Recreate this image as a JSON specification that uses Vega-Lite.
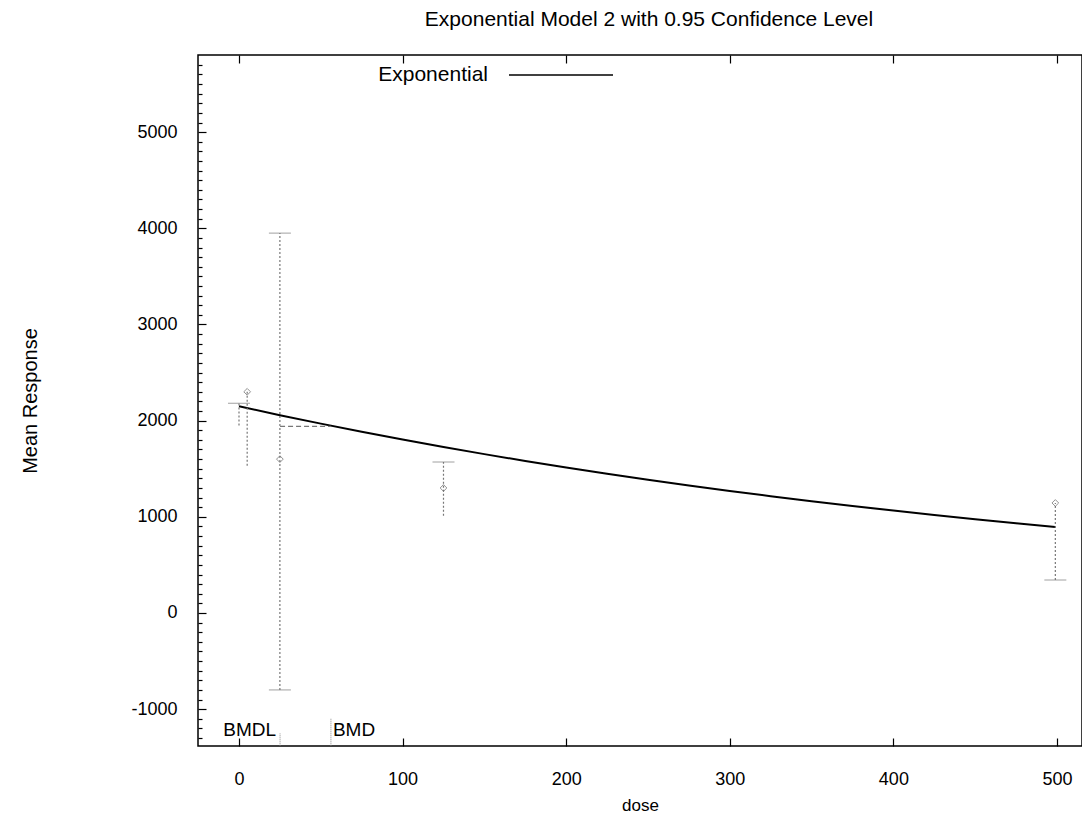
{
  "$schema": "https://vega.github.io/schema/vega-lite/v6.json",
  "width": 884,
  "height": 691,
  "autosize": "none",
  "padding": {"left": 198, "top": 55, "right": 0, "bottom": 68},
  "background": "white",
  "config": {
    "font": "Liberation Sans",
    "view": {"stroke": "black", "strokeWidth": 1.5},
    "axis": {"grid": false, "domain": false, "tickColor": "black", "labelColor": "black", "titleColor": "black", "labelFont": "Liberation Sans", "titleFont": "Liberation Sans", "labelFontSize": 18, "titleFontSize": 19, "titleFontWeight": "normal", "tickWidth": 1.2}
  },
  "title": {"text": "Exponential Model 2 with 0.95 Confidence Level", "fontSize": 21, "fontWeight": "normal", "font": "Liberation Sans", "color": "black", "offset": 24, "anchor": "middle", "dx": 9},
  "datasets": {
    "model": [
      {"dose": 0, "resp": 2150}, {"dose": 25, "resp": 2057}, {"dose": 50, "resp": 1969}, {"dose": 75, "resp": 1885},
      {"dose": 100, "resp": 1804}, {"dose": 125, "resp": 1726}, {"dose": 150, "resp": 1652}, {"dose": 175, "resp": 1581},
      {"dose": 200, "resp": 1513}, {"dose": 225, "resp": 1448}, {"dose": 250, "resp": 1386}, {"dose": 275, "resp": 1326},
      {"dose": 300, "resp": 1269}, {"dose": 325, "resp": 1215}, {"dose": 350, "resp": 1163}, {"dose": 375, "resp": 1112},
      {"dose": 400, "resp": 1065}, {"dose": 425, "resp": 1019}, {"dose": 450, "resp": 975}, {"dose": 475, "resp": 933},
      {"dose": 499, "resp": 895}
    ],
    "obs": [
      {"dose": 0, "lower": 1950, "upper": 2180},
      {"dose": 5, "lower": 1530, "upper": 2300, "mean": 2300},
      {"dose": 25, "lower": -800, "upper": 3950, "mean": 1600},
      {"dose": 125, "lower": 1010, "upper": 1570, "mean": 1300},
      {"dose": 499, "lower": 343, "upper": 1144, "mean": 1144}
    ],
    "caps": [
      {"dose": 0, "value": 2180},
      {"dose": 25, "value": 3950},
      {"dose": 25, "value": -800},
      {"dose": 125, "value": 1570},
      {"dose": 499, "value": 343}
    ],
    "bmr": [{"dose": 25.1, "dose2": 56.2, "value": 1940}],
    "bmd": [
      {"dose": 25.1, "bottom": -1380, "top": -1250, "label": "BMDL", "ly": -1215},
      {"dose": 56.2, "bottom": -1380, "top": -1100, "label": "BMD", "ly": -1215}
    ]
  },
  "layer": [
    {
      "data": {"name": "model"},
      "mark": {"type": "line", "strokeWidth": 2},
      "encoding": {
        "x": {"field": "dose", "type": "quantitative", "title": "dose",
              "scale": {"domain": [-25.06, 515.3], "nice": false, "zero": false},
              "axis": {"orient": "bottom", "values": [0, 100, 200, 300, 400, 500], "tickCount": 20, "tickSize": -8, "labelPadding": 32, "titlePadding": 9, "titleFontSize": 17}},
        "y": {"field": "resp", "type": "quantitative", "title": "Mean Response",
              "scale": {"domain": [-1383, 5802], "nice": false, "zero": false},
              "axis": {"orient": "left",
                       "values": [-1300,-1200,-1100,-1000,-900,-800,-700,-600,-500,-400,-300,-200,-100,0,100,200,300,400,500,600,700,800,900,1000,1100,1200,1300,1400,1500,1600,1700,1800,1900,2000,2100,2200,2300,2400,2500,2600,2700,2800,2900,3000,3100,3200,3300,3400,3500,3600,3700,3800,3900,4000,4100,4200,4300,4400,4500,4600,4700,4800,4900,5000,5100,5200,5300,5400,5500,5600,5700],
                       "tickCount": 200,
                       "labelExpr": "datum.value % 1000 === 0 ? '' + datum.value : ''",
                       "labelOverlap": false,
                       "tickSize": {"condition": {"test": "datum.value % 1000 === 0", "value": -8}, "value": -4},
                       "labelPadding": 29, "titlePadding": 90, "titleFontSize": 20}},
        "stroke": {"datum": "Exponential", "type": "nominal",
                   "scale": {"range": ["black"]},
                   "legend": {"orient": "none", "legendX": 349, "legendY": 6, "title": null,
                              "labelFontSize": 21, "labelColor": "black", "labelFont": "Liberation Sans",
                              "labelAlign": "right", "labelOffset": -87, "labelLimit": 300,
                              "symbolType": "M-4,0H4", "symbolSize": 676,
                              "symbolStrokeWidth": 1.5, "symbolStrokeColor": "black", "padding": 0}}
      }
    },
    {
      "data": {"name": "obs"},
      "mark": {"type": "rule", "color": "#777777", "strokeWidth": 1.2, "strokeDash": [2, 2]},
      "encoding": {
        "x": {"field": "dose", "type": "quantitative", "scale": {"domain": [-25.06, 515.3], "nice": false, "zero": false},
              "axis": {"orient": "top", "values": [0, 100, 200, 300, 400, 500], "tickCount": 20, "tickSize": -8, "labels": false, "title": null}},
        "y": {"field": "lower", "type": "quantitative", "title": "Mean Response", "scale": {"domain": [-1383, 5802], "nice": false, "zero": false}},
        "y2": {"field": "upper"}
      }
    },
    {
      "data": {"name": "caps"},
      "mark": {"type": "tick", "orient": "horizontal", "size": 22, "thickness": 1, "color": "#777777", "strokeDash": [3, 1]},
      "encoding": {
        "x": {"field": "dose", "type": "quantitative", "scale": {"domain": [-25.06, 515.3], "nice": false, "zero": false}, "axis": null},
        "y": {"field": "value", "type": "quantitative", "title": "Mean Response", "scale": {"domain": [-1383, 5802], "nice": false, "zero": false}}
      }
    },
    {
      "data": {"name": "obs"},
      "mark": {"type": "point", "shape": "diamond", "filled": false, "size": 45, "color": "#666666", "strokeWidth": 1},
      "encoding": {
        "x": {"field": "dose", "type": "quantitative", "scale": {"domain": [-25.06, 515.3], "nice": false, "zero": false}, "axis": null},
        "y": {"field": "mean", "type": "quantitative", "title": "Mean Response", "scale": {"domain": [-1383, 5802], "nice": false, "zero": false}}
      }
    },
    {
      "data": {"name": "bmr"},
      "mark": {"type": "rule", "color": "#777777", "strokeWidth": 1.2, "strokeDash": [5, 3]},
      "encoding": {
        "x": {"field": "dose", "type": "quantitative", "scale": {"domain": [-25.06, 515.3], "nice": false, "zero": false}, "axis": null},
        "x2": {"field": "dose2"},
        "y": {"field": "value", "type": "quantitative", "title": "Mean Response", "scale": {"domain": [-1383, 5802], "nice": false, "zero": false}}
      }
    },
    {
      "data": {"name": "bmd"},
      "mark": {"type": "rule", "color": "#888888", "strokeWidth": 1, "strokeDash": [1, 1]},
      "encoding": {
        "x": {"field": "dose", "type": "quantitative", "scale": {"domain": [-25.06, 515.3], "nice": false, "zero": false}, "axis": null},
        "y": {"field": "bottom", "type": "quantitative", "title": "Mean Response", "scale": {"domain": [-1383, 5802], "nice": false, "zero": false}},
        "y2": {"field": "top"}
      }
    },
    {
      "data": {"name": "bmd"},
      "transform": [{"filter": "datum.label === 'BMDL'"}],
      "mark": {"type": "text", "fontSize": 19, "font": "Liberation Sans", "color": "black", "baseline": "middle", "align": "right", "dx": -4},
      "encoding": {
        "x": {"field": "dose", "type": "quantitative", "scale": {"domain": [-25.06, 515.3], "nice": false, "zero": false}, "axis": null},
        "y": {"field": "ly", "type": "quantitative", "title": "Mean Response", "scale": {"domain": [-1383, 5802], "nice": false, "zero": false}},
        "text": {"field": "label"}
      }
    },
    {
      "data": {"name": "bmd"},
      "transform": [{"filter": "datum.label === 'BMD'"}],
      "mark": {"type": "text", "fontSize": 19, "font": "Liberation Sans", "color": "black", "baseline": "middle", "align": "left", "dx": 2},
      "encoding": {
        "x": {"field": "dose", "type": "quantitative", "scale": {"domain": [-25.06, 515.3], "nice": false, "zero": false}, "axis": null},
        "y": {"field": "ly", "type": "quantitative", "title": "Mean Response", "scale": {"domain": [-1383, 5802], "nice": false, "zero": false}},
        "text": {"field": "label"}
      }
    }
  ],
  "resolve": {"axis": {"x": "independent"}}
}
